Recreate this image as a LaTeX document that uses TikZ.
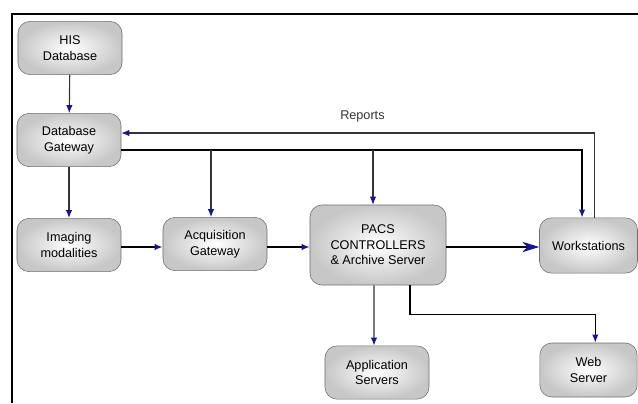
\documentclass[tikz,border=0pt]{standalone}
\usepackage{fontspec}
\setsansfont{Liberation Sans}
\usepackage{tikz}
\usetikzlibrary{arrows.meta,positioning,calc}
\usepackage{xcolor}
\definecolor{tipblue}{RGB}{25,20,150}
\definecolor{boxedge}{RGB}{110,110,110}

\begin{document}
\begin{tikzpicture}[
    x=0.025cm,y=-0.025cm,
    box/.style={draw=boxedge,rounded corners=0.3cm,minimum width=2.6cm,minimum height=1.33cm,align=center,
      inner color=white,outer color=black!22,font=\sffamily\small},
    arr/.style={-{Latex[length=0.2cm,width=0.16cm,color=tipblue]},line width=0.8pt,black!80},
    main/.style={line width=1.1pt,black},
    >=Stealth
]
\useasboundingbox (0,0) rectangle (638,403);
% frame
\draw[line width=1.5pt] (12,403) -- (12,14) -- (638,14);

\node[box] (his) at (70,48) {HIS\\Database};
\node[box] (dbgw) at (69,140) {Database\\Gateway};
\node[box] (img) at (69,245) {Imaging\\modalities};
\node[box] (acq) at (215,244) {Acquisition\\Gateway};
\node[box,minimum width=3.4cm,minimum height=2cm] (pacs) at (378,245) {PACS\\CONTROLLERS\\\& Archive Server};
\node[box,minimum width=2.45cm,minimum height=1.38cm] (ws) at (588.5,245.5) {Workstations};
\node[box] (app) at (377,372.5) {Application\\Servers};
\node[box,minimum width=2.43cm,minimum height=1.35cm] (web) at (588.5,370) {Web\\Server};

\draw[arr] (his) -- (dbgw);
\draw[arr] (dbgw) -- (img);
\draw[arr,main] (img.east |- 0,247) -- (acq.west |- 0,247);
\draw[arr,main] (acq.east |- 0,247) -- (pacs.west |- 0,247);
\draw[main,-{Stealth[length=0.42cm,width=0.26cm,inset=0.12cm,color=tipblue]}] (pacs.east |- 0,247) -- (ws.west |- 0,247);
\draw[arr] ([xshift=-0.1cm]pacs.south) -- ([xshift=-0.075cm]app.north);
\draw[arr,main] ([xshift=0.8cm]pacs.south) -- ++(0,-0.73cm) -| ([xshift=0.17cm]web.north);

% reports back to the gateway
\draw[arr] ([xshift=0.14cm]ws.north) |- node[pos=0.745,above=4pt,font=\sffamily\small] {Reports} ([yshift=0.175cm]dbgw.east);
% gateway feed
\draw[arr,main] ([yshift=-0.25cm]dbgw.east) -| ([xshift=-0.16cm]ws.north);
\coordinate (j1) at (211,150);
\coordinate (j2) at (373,150);
\draw[arr] (j1) -- (j1 |- acq.north);
\draw[arr] (j2) -- (j2 |- pacs.north);
\end{tikzpicture}
\end{document}
